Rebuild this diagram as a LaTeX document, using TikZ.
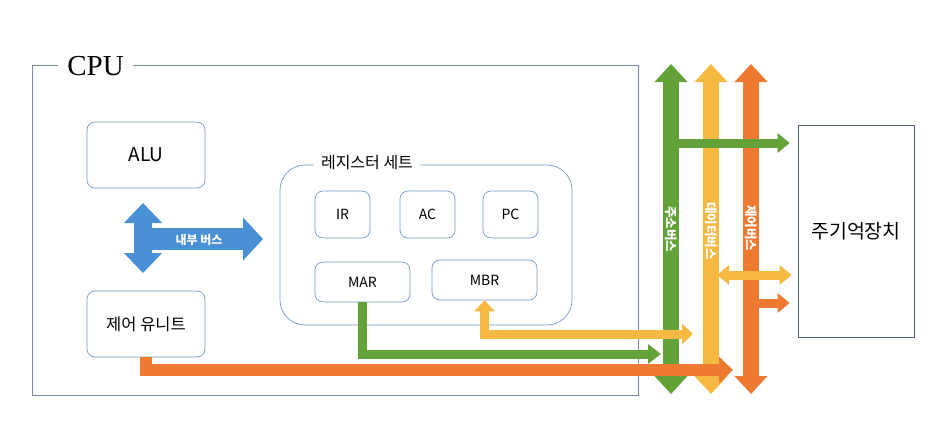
\documentclass[tikz,border=0pt]{standalone}
\usepackage{fontspec}
\setmainfont{Noto Sans CJK KR}
\newfontfamily\cpufont{Liberation Serif}
\usetikzlibrary{arrows.meta,positioning,calc}
\definecolor{framegray}{RGB}{120,138,160}
\definecolor{boxblue}{RGB}{110,155,200}
\definecolor{memblue}{RGB}{80,100,130}
\definecolor{busgreen}{RGB}{98,162,57}
\definecolor{busyellow}{RGB}{245,184,64}
\definecolor{busorange}{RGB}{237,122,48}
\definecolor{busblue}{RGB}{74,144,214}

\begin{document}
\begin{tikzpicture}[x=1pt,y=-1pt,
    regbox/.style={draw=boxblue, line width=0.7pt, rounded corners=8pt, inner sep=0pt},
    buslabel/.style={text=white, rotate=-90, font=\bfseries\fontsize{12.5}{12.5}\selectfont},
    bigbus/.style={line width=16pt, {Triangle[width=32pt,length=18pt]}-{Triangle[width=32pt,length=18pt]}},
    tapline/.style={line width=9pt, -{Triangle[width=19pt,length=12pt]}}]
    \useasboundingbox (0,0) rectangle (943,432);

    % CPU frame
    \node[draw=framegray, line width=0.7pt, minimum width=606pt, minimum height=330pt, inner sep=0pt] (cpu) at (335,230) {};
    \node[fill=white, inner xsep=9pt, inner ysep=2pt, font=\cpufont\fontsize{29}{29}\selectfont] (cputitle) at (95.5,66) {CPU};

    % ALU and control unit
    \node[regbox, minimum width=118pt, minimum height=66pt, font=\fontsize{19}{19}\selectfont] (alu) at (146,155) {ALU};
    \node[regbox, minimum width=118pt, minimum height=66pt, font=\fontsize{16.5}{16.5}\selectfont] (cu) at (146,324) {제어 유니트};

    % Internal bus
    \coordinate (ibtop) at (143,203);
    \coordinate (ibbot) at (143,273);
    \coordinate (ibend) at (263,239);
    \draw[busblue, line width=22pt, -{Triangle[width=42pt,length=20pt]}] (143,239) -- (ibend);
    \draw[busblue, line width=18pt, {Triangle[width=37pt,length=20pt]}-{Triangle[width=37pt,length=20pt]}] (ibbot) -- (ibtop);
    \node[text=white, font=\bfseries\fontsize{12}{12}\selectfont] (iblabel) at (199,240) {내부 버스};

    % Register set
    \node[draw=boxblue, line width=0.7pt, rounded corners=25pt, minimum width=292pt, minimum height=160pt, inner sep=0pt] (regset) at (426,245) {};
    \node[fill=white, inner xsep=7pt, inner ysep=1pt, font=\fontsize{16}{16}\selectfont] (regtitle) at (367,163) {레지스터 세트};
    \node[regbox, minimum width=55pt, minimum height=47pt, font=\fontsize{14}{14}\selectfont] (ir) at (342.5,214.5) {IR};
    \node[regbox, minimum width=55pt, minimum height=47pt, font=\fontsize{14}{14}\selectfont] (ac) at (427.5,214.5) {AC};
    \node[regbox, minimum width=55pt, minimum height=47pt, font=\fontsize{14}{14}\selectfont] (pc) at (510.5,214.5) {PC};
    \node[regbox, minimum width=95pt, minimum height=40pt, font=\fontsize{14}{14}\selectfont] (mar) at (362.5,282) {MAR};
    \node[regbox, minimum width=105pt, minimum height=40pt, font=\fontsize{14}{14}\selectfont] (mbr) at (484.5,280) {MBR};

    % Main memory
    \node[draw=memblue, line width=0.7pt, minimum width=116pt, minimum height=212pt, inner sep=0pt, font=\fontsize{19.5}{19.5}\selectfont] (mem) at (856,231) {주기억장치};

    % System buses
    \coordinate (abtop) at (671,64);
    \coordinate (abbot) at (671,394);
    \coordinate (dbtop) at (711,64);
    \coordinate (dbbot) at (711,394);
    \coordinate (cbtop) at (751,64);
    \coordinate (cbbot) at (751,394);
    \draw[busgreen, bigbus] (abbot) -- (abtop);
    \draw[busyellow, bigbus] (dbbot) -- (dbtop);
    \draw[busorange, bigbus] (cbbot) -- (cbtop);
    \node[buslabel] (ablabel) at (671,229) {주소버스};
    \node[buslabel] (dblabel) at (711,231) {데이터버스};
    \node[buslabel] (cblabel) at (751,228) {제어버스};

    % Bus taps to memory
    \coordinate (abtap) at (677,143);
    \coordinate (dbtap) at (717,275);
    \coordinate (cbtap) at (757,303);
    \draw[busgreen, tapline, shorten >=8pt] (abtap) -- (mem.west |- abtap);
    \draw[busyellow, tapline, {Triangle[width=19pt,length=12pt]}-{Triangle[width=19pt,length=12pt]}, shorten >=6pt] (dbtap) -- (mem.west |- dbtap);
    \draw[busorange, tapline, shorten >=8pt] (cbtap) -- (mem.west |- cbtap);

    % CPU to buses
    \coordinate (marend) at (661,354);
    \coordinate (mbrend) at (693,334);
    \coordinate (cuend) at (733,370);
    \draw[busgreen, line width=9pt, -{Triangle[width=19pt,length=13pt]}] (mar.south) |- (marend);
    \draw[busyellow, line width=9pt, {Triangle[width=20pt,length=11pt]}-{Triangle[width=20pt,length=11pt]}] (mbr.south) |- (mbrend);
    \draw[busorange, line width=12pt, -{Triangle[width=26pt,length=14pt]}] (cu.south) |- (cuend);
\end{tikzpicture}
\end{document}
